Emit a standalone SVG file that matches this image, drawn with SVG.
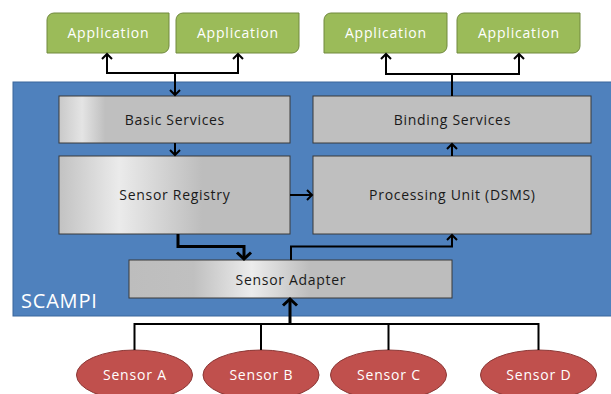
<svg xmlns="http://www.w3.org/2000/svg" width="611" height="394" viewBox="0 0 611 394">
<style>
.app{fill:#9bbb59;stroke:#71893f;stroke-width:1}
.apptxt{font-family:"Open Sans","Liberation Sans",sans-serif;font-size:14px;letter-spacing:0.8px;fill:#ffffff;text-anchor:middle}
.box{stroke:#3a3a3a;stroke-width:1}
.solid{fill:#bfbfbf}
.txt{font-family:"Open Sans","Liberation Sans",sans-serif;font-size:14px;letter-spacing:0.7px;fill:#1a1a1a;text-anchor:middle}
.sensor{fill:#c0504d;stroke:#8c3836;stroke-width:1}
.stxt{font-family:"Open Sans","Liberation Sans",sans-serif;font-size:14px;letter-spacing:0.8px;fill:#ffffff;text-anchor:middle}
.c{fill:none;stroke:#000;stroke-width:2}
.ct{fill:none;stroke:#000;stroke-width:3}
</style>
<defs>
<marker id="ah" markerUnits="userSpaceOnUse" viewBox="-8 -7 10 14" refX="-1" refY="0" markerWidth="10" markerHeight="14" orient="auto-start-reverse">
<path d="M-6,-5 L-1,0 L-6,5" fill="none" stroke="#000" stroke-width="2"/>
</marker>
<marker id="ahT" markerUnits="userSpaceOnUse" viewBox="-10 -9 12 18" refX="-1.5" refY="0" markerWidth="12" markerHeight="18" orient="auto">
<path d="M-8,-7 L-1.5,0 L-8,7" fill="none" stroke="#000" stroke-width="3"/>
</marker>
<linearGradient id="gBasic" x1="0" y1="0" x2="1" y2="0">
<stop offset="0" stop-color="#c9c9c9"/>
<stop offset="0.1" stop-color="#e4e4e4"/>
<stop offset="0.2" stop-color="#bfbfbf"/>
<stop offset="1" stop-color="#bfbfbf"/>
</linearGradient>
<linearGradient id="gReg" x1="0" y1="0" x2="1" y2="0">
<stop offset="0" stop-color="#c2c2c2"/>
<stop offset="0.26" stop-color="#ebebeb"/>
<stop offset="0.62" stop-color="#bdbdbd"/>
<stop offset="1" stop-color="#bdbdbd"/>
</linearGradient>
<linearGradient id="gAdp" x1="0" y1="0" x2="1" y2="0">
<stop offset="0" stop-color="#bdbdbd"/>
<stop offset="0.2" stop-color="#c0c0c0"/>
<stop offset="0.38" stop-color="#ececec"/>
<stop offset="0.56" stop-color="#bdbdbd"/>
<stop offset="1" stop-color="#bdbdbd"/>
</linearGradient>
</defs>

<g id="scampi">
<rect x="13" y="82" width="600" height="234" fill="#4f81bd" stroke="#3b679c" stroke-width="1"/>
<text x="21" y="308" font-family="'Open Sans','Liberation Sans',sans-serif" font-size="20" letter-spacing="0.8" fill="#ffffff">SCAMPI</text>
</g>

<g id="app1">
<path class="app" d="M54,13 H169 V46 A7,7 0 0 1 162,53 H47 V20 A7,7 0 0 1 54,13 Z"/>
<text class="apptxt" x="108.4" y="38">Application</text>
</g>
<g id="app2">
<path class="app" d="M183,13 H299 V46 A7,7 0 0 1 292,53 H176 V20 A7,7 0 0 1 183,13 Z"/>
<text class="apptxt" x="237.9" y="38">Application</text>
</g>
<g id="app3">
<path class="app" d="M331,13 H447 V46 A7,7 0 0 1 440,53 H324 V20 A7,7 0 0 1 331,13 Z"/>
<text class="apptxt" x="385.9" y="38">Application</text>
</g>
<g id="app4">
<path class="app" d="M464,13 H580 V46 A7,7 0 0 1 573,53 H457 V20 A7,7 0 0 1 464,13 Z"/>
<text class="apptxt" x="518.9" y="38">Application</text>
</g>

<g id="basic">
<rect class="box" x="59" y="96" width="231" height="47" fill="url(#gBasic)"/>
<text class="txt" x="174.9" y="124.5">Basic Services</text>
</g>
<g id="binding">
<rect class="box solid" x="313" y="96" width="278" height="47"/>
<text class="txt" x="452.4" y="124.5">Binding Services</text>
</g>
<g id="registry">
<rect class="box" x="59" y="156" width="231" height="78" fill="url(#gReg)"/>
<text class="txt" x="174.9" y="200">Sensor Registry</text>
</g>
<g id="processing">
<rect class="box solid" x="313" y="156" width="278" height="78"/>
<text class="txt" x="452.4" y="200">Processing Unit (DSMS)</text>
</g>
<g id="adapter">
<rect class="box" x="129" y="260" width="323" height="38" fill="url(#gAdp)"/>
<text class="txt" x="290.9" y="284.5">Sensor Adapter</text>
</g>

<g id="sensorA">
<ellipse class="sensor" cx="134.5" cy="375" rx="58" ry="25"/>
<text class="stxt" x="134.9" y="379.5">Sensor A</text>
</g>
<g id="sensorB">
<ellipse class="sensor" cx="261" cy="375" rx="58" ry="25"/>
<text class="stxt" x="261.4" y="379.5">Sensor B</text>
</g>
<g id="sensorC">
<ellipse class="sensor" cx="388.5" cy="375" rx="58" ry="25"/>
<text class="stxt" x="388.9" y="379.5">Sensor C</text>
</g>
<g id="sensorD">
<ellipse class="sensor" cx="538.5" cy="375" rx="58" ry="25"/>
<text class="stxt" x="538.9" y="379.5">Sensor D</text>
</g>

<g id="connectors">
<path class="c" d="M107,54 V73 H238 V54" marker-start="url(#ah)" marker-end="url(#ah)"/>
<path class="c" d="M175,73 V95" marker-end="url(#ah)"/>
<path class="c" d="M386,54 V74 H519 V54" marker-start="url(#ah)" marker-end="url(#ah)"/>
<path class="c" d="M452,74 V96"/>
<path class="c" d="M175,143 V155" marker-end="url(#ah)"/>
<path class="c" d="M290,195 H312" marker-end="url(#ah)"/>
<path class="c" d="M452,156 V144" marker-end="url(#ah)"/>
<path class="ct" d="M178,234 V246.5 H244 V259" marker-end="url(#ahT)"/>
<path class="c" d="M291,260 V246.5 H452 V235" marker-end="url(#ah)"/>
<path class="c" d="M134.5,350 V324 H538.5 V350"/>
<path class="c" d="M261,324 V350"/>
<path class="c" d="M388.5,324 V350"/>
<path class="ct" d="M290,324 V299" marker-end="url(#ahT)"/>
</g>
</svg>
